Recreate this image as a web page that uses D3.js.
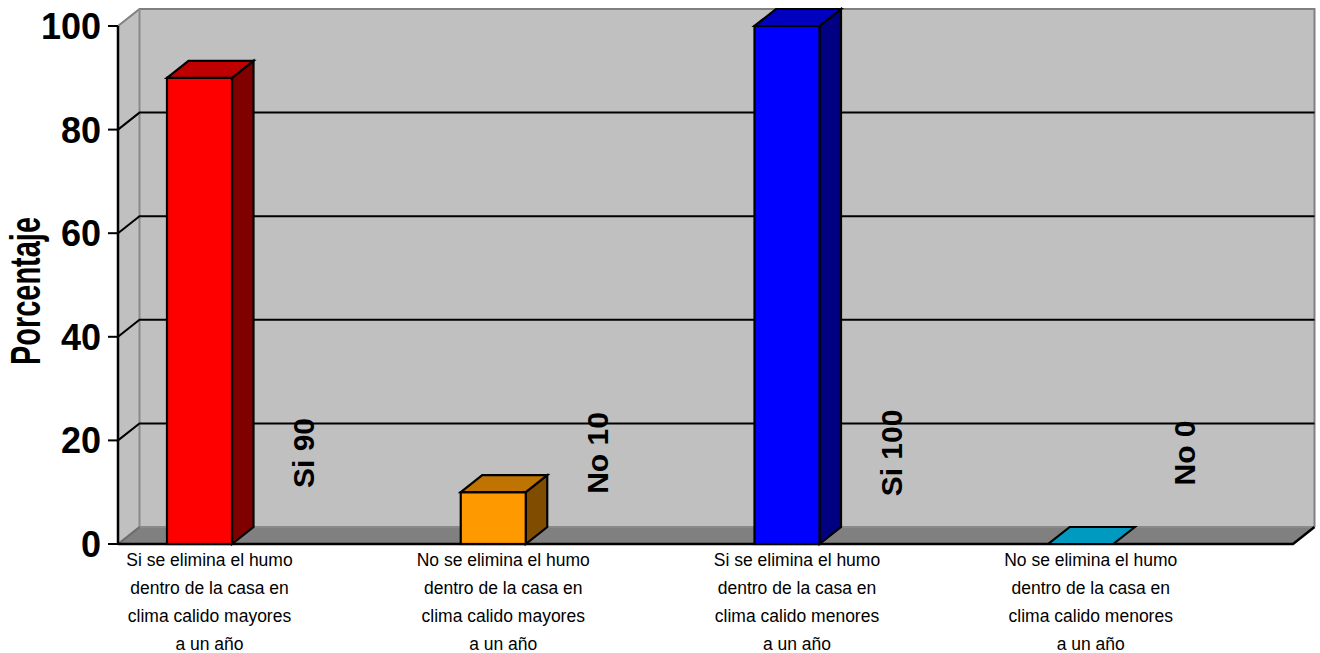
<!DOCTYPE html>
<html>
<head>
<meta charset="utf-8">
<script src="https://cdn.jsdelivr.net/npm/d3@7"></script>
<style>
  html, body { margin: 0; padding: 0; background: #ffffff; }
  svg { display: block; }
</style>
</head>
<body>
<svg id="chart" width="1320" height="653"></svg>
<script>
// ---- data ----
const categories = ["c1", "c2", "c3", "c4"];
const categoryLines = [
  ["Si se elimina el humo", "dentro de la casa en", "clima calido mayores", "a un año"],
  ["No se elimina el humo", "dentro de la casa en", "clima calido mayores", "a un año"],
  ["Si se elimina el humo", "dentro de la casa en", "clima calido menores", "a un año"],
  ["No se elimina el humo", "dentro de la casa en", "clima calido menores", "a un año"]
];
const answers = ["Si", "No", "Si", "No"];
const values = [90, 10, 100, 0];
const barColors = ["#FF0000", "#FF9900", "#0000FF", "#00CCFF"];
const yTicks = [0, 20, 40, 60, 80, 100];
const yTitle = "Porcentaje";

// ---- layout ----
(function () {
const svg = d3.select("#chart");
const pLeft = 118, pRight = 1293, pBottom = 544, pTop = 26;
const DX = 21.5, DY = -17;           // 3D depth offset
const barOffset = 49, barW = 65;

const x = d3.scaleBand().domain(categories).range([pLeft, pRight]).padding(0);
const y = d3.scaleLinear().domain([0, 100]).range([pBottom, pTop]);

function shade(c, k) {
  const r = d3.rgb(c);
  return d3.rgb(r.r * k, r.g * k, r.b * k).toString();
}

const wallFill = "#C0C0C0", wallEdge = "#808080";
// back wall
svg.append("rect")
  .attr("x", pLeft + DX).attr("y", y(100) + DY)
  .attr("width", pRight - pLeft + 0.5)
  .attr("height", y(0) - y(100))
  .attr("fill", wallFill);
// left side wall
svg.append("polygon")
  .attr("points", [[pLeft, y(100)], [pLeft + DX, y(100) + DY], [pLeft + DX, y(0) + DY], [pLeft, y(0)]].join(" "))
  .attr("fill", wallFill);
// floor
svg.append("polygon")
  .attr("points", [[pLeft, y(0)], [pRight, y(0)], [pRight + DX, y(0) + DY], [pLeft + DX, y(0) + DY]].join(" "))
  .attr("fill", "#808080");
// wall edges
const edge = svg.append("g").attr("stroke", wallEdge).attr("stroke-width", 2).attr("fill", "none");
edge.append("path").attr("d", `M${pLeft},${y(100)}L${pLeft + DX},${y(100) + DY}L${pRight + DX},${y(100) + DY}L${pRight + DX},${y(0) + DY}`);
edge.append("path").attr("d", `M${pLeft + DX},${y(100) + DY}L${pLeft + DX},${y(0) + DY}L${pRight + DX},${y(0) + DY}`)
  .attr("stroke", "#8a8a8a");
edge.append("path").attr("d", `M${pLeft},${y(0)}L${pLeft + DX},${y(0) + DY}`).attr("stroke", "#6a6a6a");

// gridlines
const grid = svg.append("g").attr("stroke", "#000").attr("stroke-width", 2).attr("fill", "none");
yTicks.filter(v => v > 0 && v < 100).forEach(v => {
  grid.append("path").attr("d", `M${pLeft},${y(v)}L${pLeft + DX},${y(v) + DY}L${pRight + DX},${y(v) + DY}`);
});

// floor front edge and right diagonal
svg.append("path")
  .attr("d", `M${pLeft},${y(0)}L${pRight},${y(0)}L${pRight + DX},${y(0) + DY}`)
  .attr("stroke", "#000").attr("stroke-width", 2.5).attr("fill", "none");

// bars
const bars = svg.append("g").attr("stroke", "#000").attr("stroke-width", 2.2).attr("stroke-linejoin", "miter");
categories.forEach((c, i) => {
  const x0 = x(c) + barOffset, x1 = x0 + barW;
  const yt = y(values[i]), yb = y(0);
  const g = bars.append("g");
  if (values[i] > 0) {
    g.append("polygon") // side
      .attr("points", [[x1, yt], [x1 + DX, yt + DY], [x1 + DX, yb + DY], [x1, yb]].join(" "))
      .attr("fill", shade(barColors[i], 0.5));
    g.append("rect")
      .attr("x", x0).attr("y", yt).attr("width", barW).attr("height", yb - yt)
      .attr("fill", barColors[i]);
  }
  g.append("polygon") // top
    .attr("points", [[x0, yt], [x1, yt], [x1 + DX, yt + DY], [x0 + DX, yt + DY]].join(" "))
    .attr("fill", shade(barColors[i], 0.75));
});

// y axis line and ticks
svg.append("line").attr("x1", pLeft).attr("x2", pLeft).attr("y1", y(100)).attr("y2", y(0))
  .attr("stroke", "#000").attr("stroke-width", 2.5);
const yAxis = svg.append("g");
yTicks.forEach(v => {
  yAxis.append("line").attr("x1", pLeft - 10).attr("x2", pLeft).attr("y1", y(v)).attr("y2", y(v))
    .attr("stroke", "#000").attr("stroke-width", 2);
  yAxis.append("text")
    .attr("x", 101).attr("y", y(v)).attr("dy", "0.36em")
    .attr("text-anchor", "end")
    .attr("font-family", "Liberation Sans, Arial, sans-serif")
    .attr("font-weight", "bold").attr("font-size", 36)
    .attr("fill", "#000")
    .text(v);
});

// y axis title
svg.append("text")
  .attr("transform", `translate(40,${(y(0) + y(100)) / 2 + 6}) rotate(-90)`)
  .attr("text-anchor", "middle")
  .attr("font-family", "Liberation Sans Narrow, Arial Narrow, Liberation Sans, sans-serif")
  .attr("font-weight", "bold").attr("font-size", 42)
  .attr("textLength", 148).attr("lengthAdjust", "spacingAndGlyphs")
  .attr("fill", "#000")
  .text(yTitle);

// category labels
const catG = svg.append("g")
  .attr("font-family", "Liberation Sans, Arial, sans-serif")
  .attr("font-size", 17.5).attr("fill", "#000").attr("text-anchor", "middle");
categories.forEach((c, i) => {
  const cx = x(c) + barOffset + barW / 2 + 10;
  const t = catG.append("text");
  categoryLines[i].forEach((line, j) => {
    t.append("tspan").attr("x", cx).attr("y", y(0) + 22 + j * 28).text(line);
  });
});

// data labels (rotated)
const dlG = svg.append("g")
  .attr("font-family", "Liberation Sans, Arial, sans-serif")
  .attr("font-weight", "bold").attr("font-size", 30).attr("fill", "#000");
categories.forEach((c, i) => {
  const cx = x(c) + barOffset + barW / 2 + 104;
  const cy = y(0) - 91;
  dlG.append("text")
    .attr("transform", `translate(${cx},${cy}) rotate(-90)`)
    .attr("text-anchor", "middle").attr("dy", "0.35em")
    .text(`${answers[i]} ${values[i]}`);
});
})();
</script>
</body>
</html>
